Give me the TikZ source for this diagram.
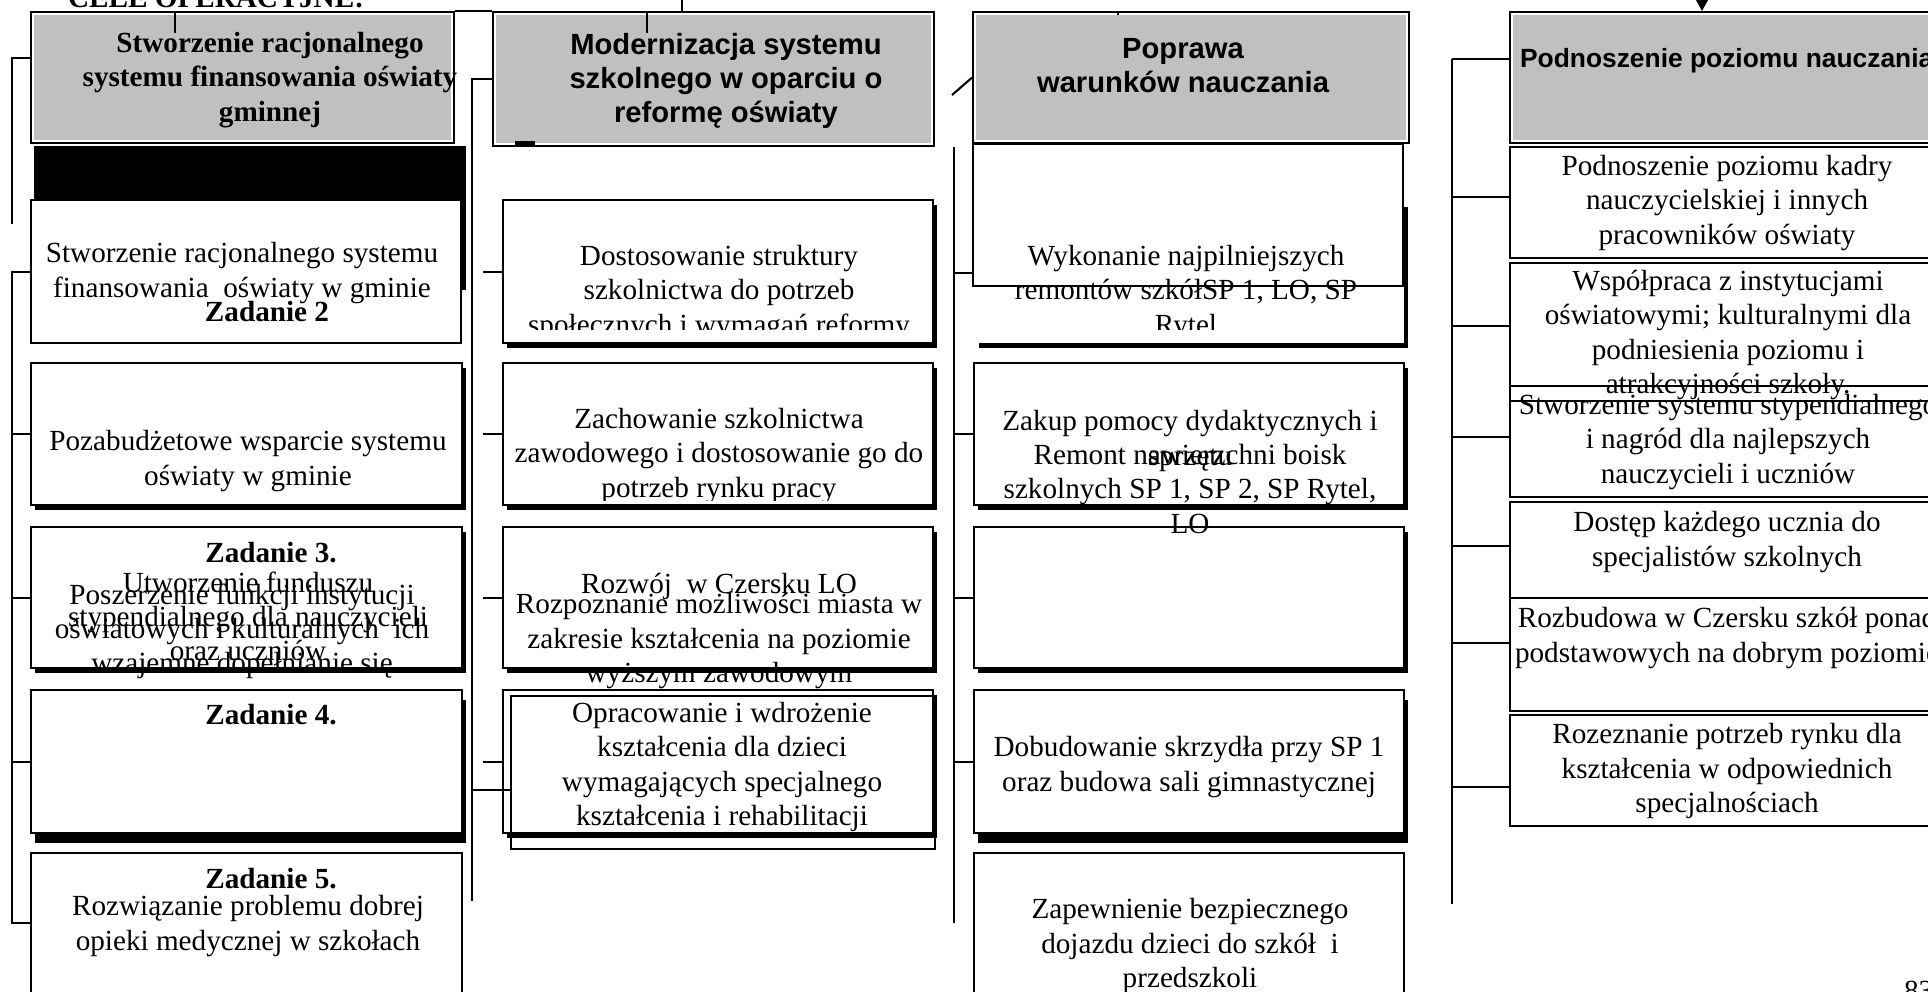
\documentclass[tikz,border=0pt]{standalone}
\usepackage{fontspec}
\setmainfont{Liberation Serif}
\setsansfont{Liberation Sans}
\usetikzlibrary{shadows,arrows.meta}
\definecolor{srebro}{HTML}{C0C0C0}
\newcommand\celfont{\fontsize{8.3}{9.7}\selectfont}

\begin{document}
\begin{tikzpicture}[x=0.01cm, y=-0.01cm, line width=0.6pt,
    box/.style = {draw, fill=white, inner sep=0, anchor=north west},
    ramka/.style = {box, fill=none},
    head/.style = {box, path picture={\fill[srebro] ([shift={(3,3)}]path picture bounding box.north west) rectangle ([shift={(-3,-3)}]path picture bounding box.south east);}},
    cien/.style = {box, drop shadow={shadow xshift=0.04cm, shadow yshift=-0.05cm, fill=black, opacity=1}},
    cien2/.style = {box, drop shadow={shadow xshift=0.04cm, shadow yshift=-0.1cm, fill=black, opacity=1}},
    txt/.style = {inner sep=0, align=center, font=\celfont},
    bold/.style = {txt, font=\celfont\bfseries},
    sans/.style = {txt, font=\celfont\sffamily\bfseries}]
\useasboundingbox (0,0) rectangle (1928,991);

\node[head, minimum width=4.23cm, minimum height=1.31cm] (1) at (30,11) {};
\node[box, fill=black, minimum width=4.3cm, minimum height=1.42cm] (10) at (34,146) {};
\node[box, minimum width=4.3cm, minimum height=1.43cm] (11) at (30,199) {};
\node[cien, minimum width=4.31cm, minimum height=1.42cm] (12) at (30,362) {};
\node[cien, minimum width=4.31cm, minimum height=1.41cm] (13) at (30,526) {};
\node[cien2, minimum width=4.31cm, minimum height=1.43cm] (14) at (30,689) {};
\node[box, minimum width=4.31cm, minimum height=1.6cm] (15) at (30,852) {};

\node[head, minimum width=4.41cm, minimum height=1.34cm] (2) at (492,11) {};
\node[cien, minimum width=4.3cm, minimum height=1.43cm] (21) at (502,199) {};
\node[cien, minimum width=4.3cm, minimum height=1.42cm] (22) at (502,362) {};
\node[cien, minimum width=4.3cm, minimum height=1.41cm] (23) at (502,526) {};
\node[cien, minimum width=4.3cm, minimum height=1.43cm] (24) at (502,689) {};
\node[ramka, line width=0.5pt, minimum width=4.24cm, minimum height=1.53cm] (25) at (510,695) {};

\node[head, minimum width=4.36cm, minimum height=1.31cm] (3) at (972,11) {};
\node[cien, draw=none, minimum width=4.29cm, minimum height=1.41cm] (31) at (974,201) {};
\node[box, minimum width=4.3cm, minimum height=1.42cm] (30) at (972,143) {};
\node[cien, minimum width=4.3cm, minimum height=1.42cm] (32) at (973,362) {};
\node[cien, minimum width=4.3cm, minimum height=1.41cm] (33) at (973,526) {};
\node[cien2, minimum width=4.3cm, minimum height=1.43cm] (34) at (973,689) {};
\node[box, minimum width=4.3cm, minimum height=1.6cm] (35) at (973,852) {};

\node[head, minimum width=4.36cm, minimum height=1.31cm] (4) at (1509,11) {};
\node[ramka, minimum width=4.36cm, minimum height=1.11cm] (41) at (1509,146) {};
\node[ramka, minimum width=4.36cm, minimum height=1.38cm] (42) at (1509,262) {};
\node[ramka, minimum width=4.36cm, minimum height=1.11cm] (43) at (1509,385) {};
\node[ramka, minimum width=4.36cm, minimum height=0.96cm] (44) at (1509,501) {};
\node[ramka, minimum width=4.36cm, minimum height=1.13cm] (45) at (1509,597) {};
\node[ramka, minimum width=4.36cm, minimum height=1.11cm] (46) at (1509,714) {};

\draw (1.north east) -- (2.north west);
\coordinate (g0) at (682,-5);
\coordinate (g1) at (175,33);
\coordinate (g2) at (647,33);
\coordinate (g3) at (1118,15);
\coordinate (g4) at (1702,-8);
\draw (g0) -- (g0 |- 2.north);
\draw (g1) -- (g1 |- 1.north);
\draw (g2) -- (g2 |- 2.north);
\draw (g3) -- (g3 |- 3.north);
\draw[-{Triangle[width=4.8pt,length=4.5pt]}] (g4) -- (g4 |- 4.north);
\draw[line width=1pt] (515,143) -- (535,143);

\coordinate (a0) at (12,58);
\coordinate (a1) at (12,224);
\draw (a1) -- (a0) -- (1.west |- a0);
\coordinate (b0) at (12,923);
\draw (11.west) -- (11.west -| b0) -- (b0) -- (15.west |- b0);
\foreach \n in {12,13,14}
    \draw (\n.west) -- (\n.west -| b0);

\coordinate (c0) at (472,901);
\coordinate (c1) at (472,790);
\coordinate (c2) at (483,0);
\draw (2.west) -| (c0);
\draw (c1) -- (25.west |- c1);
\foreach \n in {21,22,23,24}
    \draw (\n.west) -- (\n.west -| c2);

\coordinate (d0) at (952,95);
\draw (d0) -- (3.west);
\coordinate (e0) at (954,147);
\coordinate (e1) at (954,923);
\draw (e0) -- (e1);
\foreach \n in {31,32,33,34}
    \draw (\n.west) -- (\n.west -| e0);

\coordinate (f0) at (1452,59);
\coordinate (f1) at (1452,904);
\draw (f0) -- (f1);
\foreach \n/\y in {4/59,41/197,42/326,43/437,44/546,45/643,46/787} {
    \coordinate (t\n) at (1452,\y);
    \draw (t\n) -- (\n.west |- t\n);
}

\node[bold, anchor=base west] (n0) at (67,8) {CELE OPERACYJNE:};
\node[bold] (n1) at (270,80) {Stworzenie racjonalnego\\systemu finansowania oświaty\\gminnej};
\node[txt] (n11) at (242,273) {Stworzenie racjonalnego systemu\\finansowania \ oświaty w gminie};
\node[bold, anchor=base] (z2) at (267,321) {Zadanie 2};
\node[txt] (n12) at (248,461) {Pozabudżetowe wsparcie systemu\\oświaty w gminie};
\node[bold, anchor=base] (z3) at (271,562) {Zadanie 3.};
\node[txt] (n13a) at (248,616) {Utworzenie funduszu\\stypendialnego dla nauczycieli\\oraz uczniów};
\node[txt] (n13b) at (242,631) {Poszerzenie funkcji instytucji\\oświatowych i kulturalnych \ ich\\wzajemne dopełnianie się};
\node[bold, anchor=base] (z4) at (271,724) {Zadanie 4.};
\node[bold, anchor=base] (z5) at (271,888) {Zadanie 5.};
\node[txt] (n15) at (248,926) {Rozwiązanie problemu dobrej\\opieki medycznej w szkołach};

\node[sans] (n2) at (726,81) {Modernizacja systemu\\szkolnego w oparciu o\\reformę oświaty};
\begin{scope}
\clip (502,199) rectangle (932,329);
\node[txt] (n21) at (719,293) {Dostosowanie struktury\\szkolnictwa do potrzeb\\społecznych i wymagań reformy};
\end{scope}
\begin{scope}
\clip (502,362) rectangle (932,500);
\node[txt] (n22) at (719,456) {Zachowanie szkolnictwa\\zawodowego i dostosowanie go do\\potrzeb rynku pracy};
\end{scope}
\node[txt, anchor=base] (n23a) at (719,593) {Rozwój \ w Czersku LO};
\node[txt] (n23b) at (719,641) {Rozpoznanie możliwości miasta w\\zakresie kształcenia na poziomie\\wyższym zawodowym};
\node[txt] (n24) at (722,767) {Opracowanie i wdrożenie\\kształcenia dla dzieci\\wymagających specjalnego\\kształcenia i rehabilitacji};

\node[sans] (n3) at (1183,66) {Poprawa\\warunków nauczania};
\begin{scope}
\clip (974,199) rectangle (1403,329);
\node[txt] (n31) at (1186,293) {Wykonanie najpilniejszych\\remontów szkółSP 1, LO, SP\\Rytel};
\end{scope}
\node[txt] (n32a) at (1190,441) {Zakup pomocy dydaktycznych i\\sprzętu};
\node[txt] (n32b) at (1190,489) {Remont nawierzchni boisk\\szkolnych SP 1, SP 2, SP Rytel,\\LO};
\node[txt] (n34) at (1189,767) {Dobudowanie skrzydła przy SP 1\\oraz budowa sali gimnastycznej};
\node[txt] (n35) at (1190,946) {Zapewnienie bezpiecznego\\dojazdu dzieci do szkół \ i\\przedszkoli};

\node[sans, anchor=base west, font=\fontsize{7.5}{9}\selectfont\sffamily\bfseries] (n4) at (1519,68) {Podnoszenie poziomu nauczania};
\node[txt] (n41) at (1727,203) {Podnoszenie poziomu kadry\\nauczycielskiej i innych\\pracowników oświaty};
\node[txt] (n42) at (1728,335) {Współpraca z instytucjami\\oświatowymi; kulturalnymi dla\\podniesienia poziomu i\\atrakcyjności szkoły.};
\node[txt] (n43) at (1728,442) {Stworzenie systemu stypendialnego\\i nagród dla najlepszych\\nauczycieli i uczniów};
\node[txt] (n44) at (1727,542) {Dostęp każdego ucznia do\\specjalistów szkolnych};
\node[txt] (n45) at (1727,638) {Rozbudowa w Czersku szkół ponad\\podstawowych na dobrym poziomie};
\node[txt] (n46) at (1727,771) {Rozeznanie potrzeb rynku dla\\kształcenia w odpowiednich\\specjalnościach};
\node[txt, anchor=base west] (n83) at (1903,1000) {83};

\end{tikzpicture}
\end{document}
